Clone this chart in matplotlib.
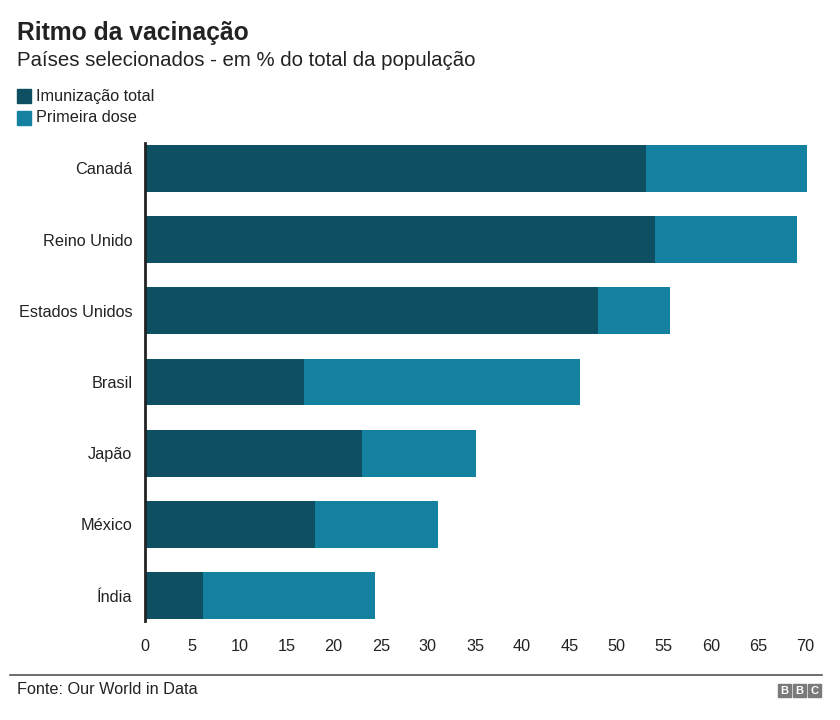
import matplotlib
matplotlib.use("Agg")
import matplotlib.pyplot as plt
from matplotlib.patches import Rectangle
from matplotlib.lines import Line2D

plt.rcParams['font.family'] = ['Liberation Sans', 'DejaVu Sans']

countries = ["Canadá", "Reino Unido", "Estados Unidos", "Brasil", "Japão", "México", "Índia"]
full_immunization = [53.1, 54.1, 48.0, 16.9, 23.0, 18.0, 6.2]
first_dose = [70.2, 69.2, 55.7, 46.1, 35.1, 31.1, 24.4]
xticks = [0, 5, 10, 15, 20, 25, 30, 35, 40, 45, 50, 55, 60, 65, 70]

DARK = "#0e4f62"
LIGHT = "#1481a1"

W, H = 840, 720
fig = plt.figure(figsize=(W / 100, H / 100), dpi=100)

def fx(px):
    return px / W

def fy(py):
    return 1 - py / H

ax_left, ax_right, ax_top, ax_bottom = 145, 805, 143, 621
ax = fig.add_axes([fx(ax_left), fy(ax_bottom), fx(ax_right - ax_left), (ax_bottom - ax_top) / H])

ypos = list(range(len(countries)))
ax.barh(ypos, first_dose, height=0.66, color=LIGHT, clip_on=False, zorder=2)
ax.barh(ypos, full_immunization, height=0.66, color=DARK, clip_on=False, zorder=3)

ax.set_xlim(0, 70)
ax.set_ylim(6.358, -0.358)
ax.set_yticks(ypos)
ax.set_yticklabels(countries, fontsize=11.7, color="#222222")
ax.set_xticks(xticks)
ax.set_xticklabels([str(t) for t in xticks], fontsize=11.7, color="#222222")
ax.tick_params(axis="both", length=0)
ax.tick_params(axis="y", pad=9)
ax.tick_params(axis="x", pad=13)
for s in ["top", "right", "bottom"]:
    ax.spines[s].set_visible(False)
ax.spines["left"].set_linewidth(2)
ax.spines["left"].set_color("#222222")
ax.spines["left"].set_zorder(5)

# Title and subtitle
fig.text(fx(17), fy(40), "Ritmo da vacinação", fontsize=17.7, fontweight="bold",
         color="#222222", va="baseline", ha="left")
fig.text(fx(17), fy(66), "Países selecionados - em % do total da população", fontsize=14.7,
         color="#222222", va="baseline", ha="left")

# Legend
for i, (lab, col) in enumerate([("Imunização total", DARK), ("Primeira dose", LIGHT)]):
    yc = 96 + i * 22
    fig.patches.append(Rectangle((fx(17), fy(yc + 7)), fx(14), 14 / H, color=col,
                                 transform=fig.transFigure, figure=fig))
    fig.text(fx(36), fy(yc), lab, fontsize=11.7, color="#222222", va="center", ha="left")

# Footer
fig.add_artist(Line2D([fx(10), fx(822)], [fy(675), fy(675)], color="#555555", lw=1.2,
                      transform=fig.transFigure))
fig.text(fx(17), fy(690), "Fonte: Our World in Data", fontsize=11.7, color="#222222",
         va="center", ha="left")
for i, letter in enumerate("BBC"):
    x0 = 778 + i * 15
    fig.patches.append(Rectangle((fx(x0), fy(697)), fx(13), 13 / H, color="#7a7a7a",
                                 transform=fig.transFigure, figure=fig))
    fig.text(fx(x0 + 6.5), fy(690.5), letter, fontsize=8, fontweight="bold", color="white",
             va="center", ha="center")

fig.savefig("out.png", dpi=100)
